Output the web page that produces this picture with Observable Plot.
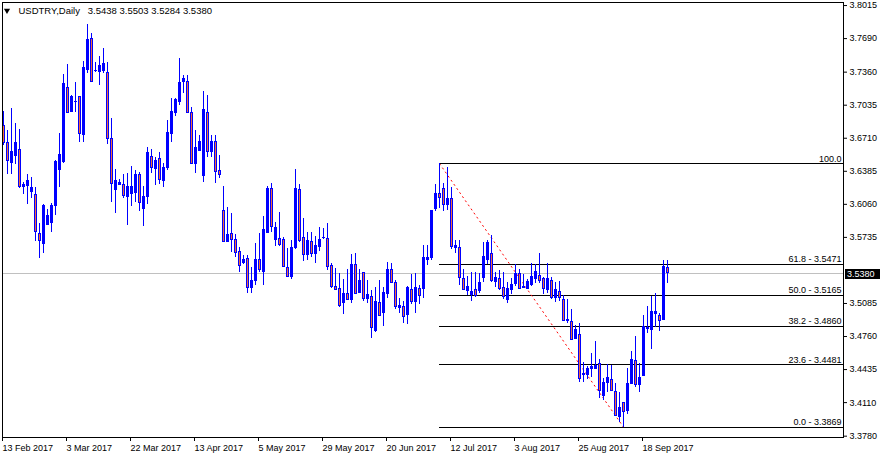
<!DOCTYPE html>
<html><head><meta charset="utf-8">
<script src="https://cdn.jsdelivr.net/npm/d3@7"></script>
<script src="https://cdn.jsdelivr.net/npm/@observablehq/plot@0.6"></script>
<style>
html,body{margin:0;padding:0;background:#fff;}
#chart{width:883px;height:459px;}
svg{display:block;}
</style></head><body><div id="chart"></div>
<script>
const symbolTitle = "USDTRY,Daily\u00a0\u00a0 3.5438 3.5503 3.5284 3.5380";

const open = [3.6826,3.6659,3.6465,3.6538,3.6590,3.6229,3.6239,3.6180,3.6154,3.5771,3.5668,3.5859,3.5875,3.6042,3.6396,3.6472,3.7209,3.6973,3.7070,3.7116,3.6744,3.7386,3.7688,3.7372,3.7360,3.7370,3.7354,3.6698,3.6203,3.6255,3.6252,3.6130,3.6160,3.6170,3.6344,3.6012,3.6130,3.6528,3.6406,3.6508,3.6288,3.6416,3.6750,3.6961,3.7065,3.7262,3.7268,3.6961,3.6455,3.6583,3.6337,3.6961,3.6577,3.6678,3.6383,3.5997,3.5688,3.5764,3.5712,3.5587,3.5485,3.5518,3.5236,3.5304,3.5508,3.5393,3.5780,3.6206,3.5712,3.5721,3.5714,3.5436,3.5344,3.5629,3.6203,3.5731,3.5564,3.5692,3.5574,3.5639,3.5732,3.5721,3.5449,3.5252,3.5223,3.5092,3.5183,3.5121,3.5459,3.5186,3.5387,3.5131,3.5151,3.4813,3.5085,3.4990,3.5177,3.5410,3.5282,3.5039,3.5053,3.4970,3.5220,3.5095,3.5223,3.5230,3.5508,3.5531,3.6010,3.6164,3.6206,3.6056,3.6115,3.5629,3.5633,3.5328,3.5203,3.5164,3.5213,3.5203,3.5334,3.5508,3.5574,3.5295,3.5328,3.5236,3.5124,3.5220,3.5272,3.5377,3.5236,3.5230,3.5262,3.5321,3.5351,3.5328,3.5213,3.5311,3.5141,3.5200,3.5124,3.4913,3.4901,3.4734,3.4777,3.4384,3.4377,3.4436,3.4443,3.4492,3.4173,3.4301,3.4328,3.4219,3.3967,3.4104,3.4023,3.4295,3.4524,3.4279,3.4367,3.4836,3.4829,3.4984,3.4957,3.4918,3.5438];
const high = [3.6973,3.6786,3.7000,3.6858,3.6793,3.6278,3.6354,3.6321,3.6229,3.5869,3.6059,3.6007,3.6066,3.6488,3.6757,3.7334,3.7433,3.7131,3.7259,3.7121,3.7465,3.7829,3.7738,3.7455,3.7511,3.7593,3.7455,3.6905,3.6403,3.6305,3.6354,3.6364,3.6432,3.6393,3.6370,3.6239,3.6616,3.6597,3.6524,3.6570,3.6459,3.6885,3.7098,3.7098,3.7495,3.7327,3.7327,3.7016,3.6786,3.6737,3.7170,3.7131,3.6737,3.6737,3.6541,3.6239,3.6032,3.5970,3.5767,3.5639,3.5557,3.5554,3.5442,3.5670,3.5776,3.5941,3.6236,3.6268,3.5879,3.5983,3.5737,3.5623,3.5705,3.6403,3.6255,3.5918,3.5780,3.5780,3.5744,3.5830,3.5826,3.5875,3.5475,3.5432,3.5377,3.5321,3.5419,3.5567,3.5577,3.5419,3.5393,3.5311,3.5213,3.5242,3.5311,3.5245,3.5491,3.5475,3.5311,3.5131,3.5108,3.5252,3.5370,3.5383,3.5262,3.5655,3.5658,3.6000,3.6252,3.6461,3.6262,3.6420,3.6229,3.5705,3.5705,3.5419,3.5351,3.5387,3.5393,3.5377,3.5688,3.5705,3.5754,3.5387,3.5410,3.5387,3.5295,3.5328,3.5469,3.5419,3.5367,3.5324,3.5481,3.5466,3.5574,3.5344,3.5475,3.5344,3.5295,3.5301,3.5164,3.5121,3.5023,3.4869,3.4885,3.4502,3.4465,3.4590,3.4714,3.4534,3.4344,3.4482,3.4475,3.4295,3.4213,3.4114,3.4443,3.4613,3.4760,3.4492,3.4967,3.5056,3.5157,3.5186,3.4990,3.5508,3.5503];
const low = [3.6639,3.6357,3.6357,3.6449,3.6213,3.6160,3.6059,3.6115,3.5698,3.5531,3.5580,3.5852,3.5786,3.5951,3.6226,3.6462,3.6954,3.6968,3.6966,3.6665,3.6671,3.7350,3.7259,3.7354,3.7232,3.7344,3.6652,3.6081,3.5973,3.6246,3.6121,3.5855,3.6042,3.6081,3.5993,3.5845,3.6056,3.6364,3.6249,3.6258,3.6226,3.6396,3.6671,3.6927,3.7032,3.7147,3.6959,3.6452,3.6361,3.6580,3.6278,3.6524,3.6518,3.6262,3.6317,3.5685,3.5682,3.5590,3.5540,3.5390,3.5472,3.5180,3.5180,3.5262,3.5393,3.5265,3.5778,3.5786,3.5646,3.5646,3.5439,3.5341,3.5318,3.5613,3.5688,3.5501,3.5508,3.5540,3.5475,3.5599,3.5714,3.5410,3.5230,3.5213,3.5046,3.4974,3.5119,3.5088,3.5178,3.5183,3.5108,3.5082,3.4738,3.4803,3.4957,3.4862,3.5131,3.5287,3.5023,3.4990,3.4891,3.4879,3.5075,3.4990,3.5078,3.5137,3.5459,3.5508,3.5990,3.6016,3.5993,3.6000,3.5613,3.5580,3.5262,3.5213,3.5164,3.5108,3.5147,3.5180,3.5289,3.5472,3.5289,3.5245,3.5216,3.5124,3.5088,3.5174,3.5252,3.5228,3.5233,3.5228,3.5252,3.5285,3.5285,3.5174,3.5180,3.5121,3.5098,3.5105,3.4903,3.4891,3.4726,3.4731,3.4311,3.4311,3.4335,3.4357,3.4436,3.4148,3.4131,3.4213,3.4222,3.3974,3.3918,3.3869,3.3990,3.4285,3.4262,3.4213,3.4362,3.4787,3.4633,3.4846,3.4813,3.4913,3.5284];
const close = [3.6659,3.6488,3.6570,3.6659,3.6229,3.6255,3.6285,3.6219,3.5786,3.5698,3.6046,3.5941,3.6046,3.6472,3.6548,3.7246,3.6961,3.7118,3.7068,3.6750,3.7396,3.7672,3.7262,3.7370,3.7416,3.7436,3.6705,3.6262,3.6292,3.6272,3.6140,3.6233,3.6233,3.6344,3.6072,3.6128,3.6560,3.6416,3.6491,3.6298,3.6420,3.6757,3.6970,3.7082,3.7249,3.7288,3.6961,3.6455,3.6612,3.6678,3.6983,3.6577,3.6671,3.6380,3.6351,3.5688,3.5754,3.5708,3.5584,3.5456,3.5515,3.5236,3.5308,3.5508,3.5416,3.5803,3.6206,3.5835,3.5826,3.5662,3.5442,3.5344,3.5633,3.6213,3.5702,3.5564,3.5695,3.5574,3.5655,3.5705,3.5729,3.5442,3.5245,3.5220,3.5058,3.5183,3.5121,3.5459,3.5180,3.5311,3.5131,3.5164,3.4842,3.5095,3.4960,3.5193,3.5410,3.5289,3.5049,3.5056,3.4950,3.5242,3.5095,3.5236,3.5157,3.5537,3.5537,3.5990,3.6164,3.6121,3.6049,3.6108,3.5639,3.5649,3.5334,3.5220,3.5245,3.5196,3.5154,3.5289,3.5547,3.5682,3.5308,3.5334,3.5230,3.5147,3.5223,3.5262,3.5377,3.5230,3.5252,3.5298,3.5344,3.5390,3.5304,3.5230,3.5328,3.5141,3.5213,3.5141,3.4908,3.4918,3.4728,3.4826,3.4344,3.4394,3.4436,3.4465,3.4475,3.4222,3.4301,3.4350,3.4229,3.3977,3.4055,3.4016,3.4295,3.4531,3.4288,3.4350,3.4852,3.4842,3.4999,3.4999,3.4911,3.5442,3.5380];

const dateTickIndex = [0,16,32,48,64,80,96,112,128,144,160];
const dateTickLabels = ["13 Feb 2017","3 Mar 2017","22 Mar 2017","13 Apr 2017","5 May 2017","29 May 2017","20 Jun 2017","12 Jul 2017","3 Aug 2017","25 Aug 2017","18 Sep 2017"];
const priceTicks = [3.8015,3.7690,3.7360,3.7035,3.6710,3.6385,3.6060,3.5735,3.5085,3.4760,3.4435,3.4110,3.3780];

const fibValues = [3.6461,3.5471,3.5165,3.4860,3.4481,3.3869];
const fibLabels = ["100.0","61.8 - 3.5471","50.0 - 3.5165","38.2 - 3.4860","23.6 - 3.4481","0.0 - 3.3869"];
const fibHighIndex = 109, fibLowIndex = 155;

const BLUE = "#0000ff", BEAR = "#f26b3a";
const X_DOMAIN = [-0.25, 210], Y_DOMAIN = [3.3767, 3.8045];

const rows = open.map((o, i) => ({i, o, h: high[i], l: low[i], c: close[i]}));
const fibRows = fibValues.map((v, j) => ({v, label: fibLabels[j]}));
const lastClose = close[close.length - 1];

const chart = Plot.plot({
  width: 883, height: 459,
  marginLeft: 2, marginRight: 40, marginTop: 2, marginBottom: 22,
  style: {fontFamily: "'Liberation Sans', Arial, sans-serif", fontSize: "9px", background: "#fff", color: "#000"},
  x: {type: "linear", domain: X_DOMAIN, axis: null},
  y: {type: "linear", domain: Y_DOMAIN, axis: null},
  marks: [
    Plot.ruleY([lastClose], {stroke: "#c0c0c0", shapeRendering: "crispEdges"}),
    Plot.ruleY(fibRows, {y: "v", x1: fibHighIndex, x2: X_DOMAIN[1], stroke: "#000", shapeRendering: "crispEdges"}),
    Plot.text(fibRows, {y: "v", text: "label", frameAnchor: "right", textAnchor: "end", lineAnchor: "bottom", dx: -2, dy: -2, fill: "#000"}),
    Plot.link([{x1: fibHighIndex, y1: fibValues[0], x2: fibLowIndex, y2: fibValues[fibValues.length - 1]}],
      {x1: "x1", y1: "y1", x2: "x2", y2: "y2", stroke: "#ff0000", strokeDasharray: "2,3"}),
    Plot.ruleX(rows, {x: "i", y1: "l", y2: "h", stroke: BLUE, strokeWidth: 1, shapeRendering: "crispEdges"}),
    Plot.rect(rows, {filter: d => d.c >= d.o, x1: d => d.i - 0.25, x2: d => d.i + 0.25,
      y1: d => Math.min(d.o, d.c), y2: d => Math.max(d.o, d.c), fill: BLUE, stroke: BLUE, strokeWidth: 1, shapeRendering: "crispEdges"}),
    Plot.rect(rows, {filter: d => d.c < d.o, x1: d => d.i - 0.25, x2: d => d.i + 0.25,
      y1: d => Math.min(d.o, d.c), y2: d => Math.max(d.o, d.c), fill: BEAR, stroke: BLUE, strokeWidth: 1, shapeRendering: "crispEdges"}),
    Plot.axisY(priceTicks, {anchor: "right", tickSize: 3, tickPadding: 3, tickFormat: d => d.toFixed(4), label: null}),
    Plot.axisX(dateTickIndex, {anchor: "bottom", tickSize: 4, tickPadding: 3, textAnchor: "start", dx: -1,
      tickFormat: d => dateTickLabels[dateTickIndex.indexOf(d)], label: null}),
    Plot.frame({stroke: "#000", shapeRendering: "crispEdges"}),
    Plot.dot([0], {frameAnchor: "top-left", dx: 4.5, dy: 8, symbol: "triangle", rotate: 180, r: 2.3, fill: "#000", stroke: "none"}),
    Plot.text([symbolTitle], {frameAnchor: "top-left", dx: 16, dy: 4.5, textAnchor: "start", lineAnchor: "top", fontSize: 9.5, fill: "#000"})
  ]
});
document.getElementById("chart").append(chart);

// current price label box on the right axis
const yPos = chart.scale("y").apply(lastClose);
const frameRight = 883 - 40;
const g = d3.select(chart).append("g");
g.append("rect").attr("x", frameRight + 2).attr("y", Math.round(yPos) - 4).attr("width", 35).attr("height", 10).attr("fill", "#000");
g.append("text").attr("x", frameRight + 4).attr("y", Math.round(yPos) + 1).attr("dy", "0.32em")
  .attr("text-anchor", "start").attr("fill", "#fff").attr("font-size", 9).text(lastClose.toFixed(4));
</script></body></html>
